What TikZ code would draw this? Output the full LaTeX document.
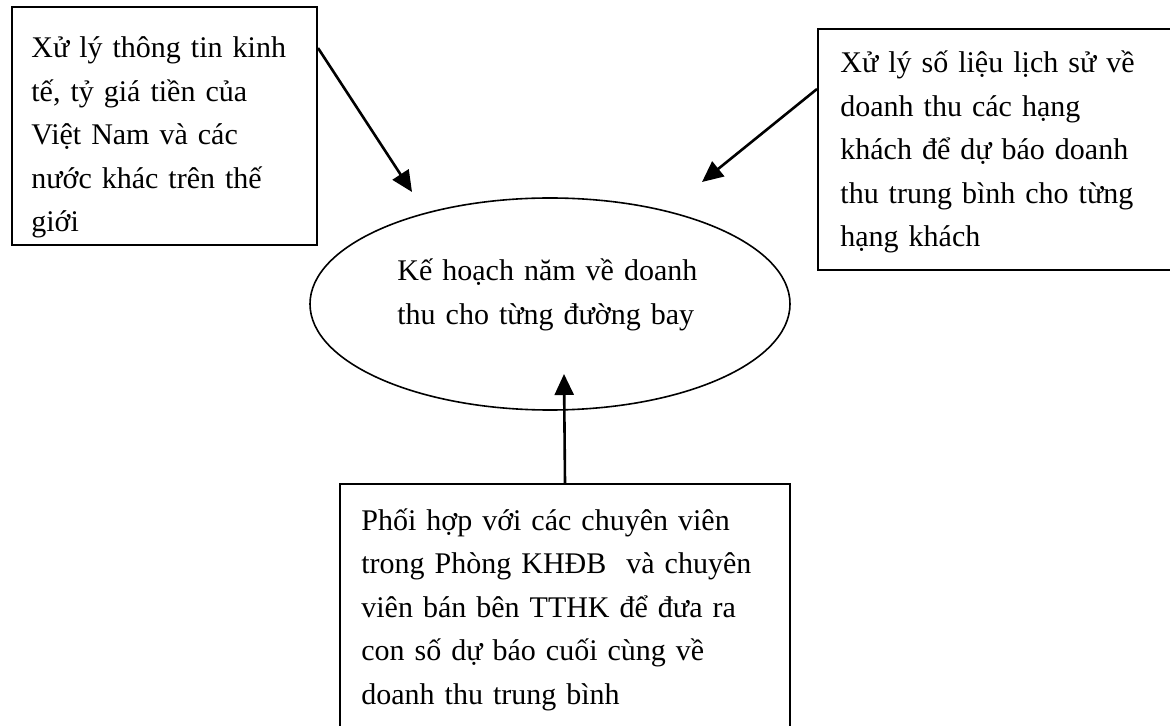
\documentclass[tikz,border=0pt]{standalone}
\usepackage{fontspec}
\setmainfont{Liberation Serif}
\usepackage{tikz}
\usetikzlibrary{arrows.meta,shapes.geometric,positioning}

\begin{document}
\begin{tikzpicture}
	[x=0.5pt,y=-0.5pt,
	caja/.style={draw=black,line width=1pt,inner sep=0pt,anchor=north west},
	ovalo/.style={ellipse,draw=black,line width=0.8pt,inner sep=0pt,
		minimum width=240pt,minimum height=106pt},
	texto/.style={anchor=base west,inner sep=0pt,text width=200pt,align=left,
		font=\fontsize{15}{21.75}\selectfont},
	flecha/.style={line width=1.3pt,-{Triangle[length=10.5pt,width=9.5pt]}}]
\useasboundingbox (0,0) rectangle (1170,726);
%cuadro izquierdo
\node (izq) at (11,6) [caja,minimum width=152.5pt,minimum height=119pt] {};
\node (tizq) at (31,58) [texto] {Xử lý thông tin kinh\\tế, tỷ giá tiền của\\Việt Nam và các\\nước khác trên thế\\giới};
%cuadro derecho
\node (der) at (817,28) [caja,minimum width=179.5pt,minimum height=120.5pt] {};
\node (tder) at (840,73) [texto] {Xử lý số liệu lịch sử về\\doanh thu các hạng\\khách để dự báo doanh\\thu trung bình cho từng\\hạng khách};
%elipse central
\node (plan) at (550,304) [ovalo] {};
\node (tplan) at (397,281) [texto] {Kế hoạch năm về doanh\\thu cho từng đường bay};
%cuadro de abajo
\node (abajo) at (339,483) [caja,minimum width=225pt,minimum height=130pt] {};
\node (tabajo) at (361,530) [texto,text width=220pt] {Phối hợp với các chuyên viên\\trong Phòng KHĐB~ và chuyên\\viên bán bên TTHK để đưa ra\\con số dự báo cuối cùng về\\doanh thu trung bình};
%flechas
\coordinate (pizq) at (412,192);
\coordinate (pder) at (702,182);
\coordinate (pabajo) at (564,374);
\draw[flecha] ([yshift=-21pt]izq.north east) -- (pizq);
\draw[flecha] ([yshift=-30.5pt]der.north west) -- (pder);
\draw[flecha] (abajo.north) -- (pabajo);
\end{tikzpicture}
\end{document}
